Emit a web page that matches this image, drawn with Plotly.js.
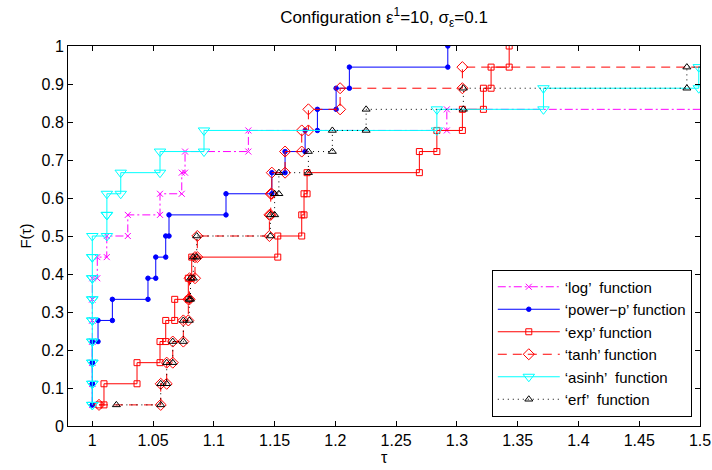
<!DOCTYPE html>
<html>
<head>
<meta charset="utf-8">
<script src="https://cdn.plot.ly/plotly-3.0.1.min.js"></script>
<style>html,body{margin:0;padding:0;background:#fff;}#chart{width:712px;height:470px;}</style>
</head>
<body>
<div id="chart"></div>
<script>
// ---- data: sorted performance ratios per solver (18 problems; missing = failures beyond axis) ----
const nProblems = 18;
const seriesNames = ["\u2018log\u2019  function", "\u2018power\u2212p\u2019 function", "\u2018exp\u2019 function", "\u2018tanh\u2019 function", "\u2018asinh\u2019  function", "\u2018erf\u2019  function"];
const logRatios = [1, 1, 1, 1, 1, 1, 1, 1.0041, 1.0119, 1.0292, 1.0557, 1.0736, 1.0763, 1.1284, 1.2917];
const powerpRatios = [1, 1, 1, 1, 1.0047, 1.0165, 1.0458, 1.0522, 1.0604, 1.0631, 1.1100, 1.1477, 1.1586, 1.1751, 1.1852, 1.2006, 1.2115, 1.2925];
const expRatios = [1.0055, 1.0096, 1.0368, 1.0557, 1.0604, 1.0678, 1.0790, 1.0818, 1.1526, 1.1723, 1.1742, 1.1767, 1.2691, 1.2835, 1.3045, 1.3218, 1.3281, 1.3430];
const tanhRatios = [1.0055, 1.0563, 1.0612, 1.0662, 1.0749, 1.0790, 1.0800, 1.0845, 1.0864, 1.1457, 1.1468, 1.1477, 1.1586, 1.1723, 1.1778, 1.2039, 1.3045];
const asinhRatios = [1, 1, 1, 1, 1, 1, 1, 1, 1, 1.012, 1.012, 1.0234, 1.0557, 1.0919, 1.2835, 1.3712, 1.499];
const erfRatios = [1.0198, 1.0563, 1.0612, 1.0662, 1.0749, 1.0798, 1.0808, 1.0831, 1.0859, 1.1465, 1.1500, 1.1535, 1.1778, 1.1975, 1.2253, 1.3053, 1.4892];
const xTickVals = [1, 1.05, 1.1, 1.15, 1.2, 1.25, 1.3, 1.35, 1.4, 1.45, 1.5];
const xTickText = ["1", "1.05", "1.1", "1.15", "1.2", "1.25", "1.3", "1.35", "1.4", "1.45", "1.5"];
const yTickVals = [0, 0.1, 0.2, 0.3, 0.4, 0.5, 0.6, 0.7, 0.8, 0.9, 1];
const yTickText = ["0", "0.1", "0.2", "0.3", "0.4", "0.5", "0.6", "0.7", "0.8", "0.9", "1"];
const titleText = "Configuration \u03b5<sup>1</sup>=10, \u03c3<sub>\u03b5</sub>=0.1";
const xLabel = "\u03c4";
const yLabel = "F(\u03c4)";

// ---- stairs vertices (MATLAB stairs: markers on every corner) ----
const failRatio = 3; // unsolved problems sit far right of the visible range
function stairs(r) {
  const xs = [], ys = [];
  for (let i = 0; i < r.length; i++) {
    if (i > 0) { xs.push(r[i]); ys.push(i / nProblems); }
    xs.push(r[i]); ys.push((i + 1) / nProblems);
  }
  if (r.length < nProblems) { xs.push(failRatio); ys.push(r.length / nProblems); }
  return {x: xs, y: ys};
}

const styles = [
  {color: "#ff00ff", dash: "8px,3px,2px,3px", symbol: "x-thin-open", size: 6},
  {color: "#0000ff", dash: "solid", symbol: "circle", size: 4.5},
  {color: "#ff0000", dash: "solid", symbol: "square-open", size: 6},
  {color: "#ff0000", dash: "9px,6px", symbol: "diamond-open", size: 8.5},
  {color: "#00ffff", dash: "solid", symbol: "triangle-down-open", size: 10},
  {color: "#000000", dash: "1px,4px", symbol: "triangle-up-open", size: 7}
];
const allRatios = [logRatios, powerpRatios, expRatios, tanhRatios, asinhRatios, erfRatios];

const traces = allRatios.map((r, i) => {
  const s = stairs(r);
  const st = styles[i];
  return {
    x: s.x, y: s.y, name: seriesNames[i], type: "scatter", mode: "lines+markers",
    line: {color: st.color, width: 1, dash: st.dash},
    marker: {symbol: st.symbol, size: st.size, color: st.color, line: {color: st.color, width: 1}}
  };
});

const font = "Liberation Sans, Arial, Helvetica, sans-serif";
const layout = {
  width: 712, height: 470,
  margin: {l: 68, r: 12, t: 46, b: 44},
  paper_bgcolor: "#fff", plot_bgcolor: "#fff",
  font: {family: font, size: 16, color: "#000"},
  title: {text: titleText, font: {family: font, size: 17, color: "#000"}, x: 0.5, xref: "paper", y: 1 - 17/470, yref: "container", yanchor: "middle"},
  xaxis: {
    range: [0.98, 1.5], tickvals: xTickVals, ticktext: xTickText,
    ticks: "inside", ticklen: 5, tickcolor: "#000", showline: true, linecolor: "#000", linewidth: 1, mirror: "ticks",
    showgrid: false, zeroline: false, tickfont: {size: 16}
  },
  yaxis: {
    range: [0, 1], tickvals: yTickVals, ticktext: yTickText,
    ticks: "inside", ticklen: 5, tickcolor: "#000", showline: true, linecolor: "#000", linewidth: 1, mirror: "ticks",
    showgrid: false, zeroline: false, tickfont: {size: 16},
    title: {text: yLabel, font: {size: 15}, standoff: 6}
  },
  annotations: [{
    text: xLabel, xref: "paper", yref: "paper", x: 0.5, y: -0.083, xanchor: "center", yanchor: "middle",
    showarrow: false, font: {family: font, size: 16, color: "#000"}
  }],
  legend: {
    x: 0.987, xanchor: "right", y: 0.025, yanchor: "bottom",
    bgcolor: "#fff", bordercolor: "#000", borderwidth: 1,
    font: {family: font, size: 15, color: "#000"}, itemwidth: 62, tracegroupgap: 0
  },
  showlegend: true
};

Plotly.newPlot("chart", traces, layout, {staticPlot: true, displayModeBar: false});
</script>
</body>
</html>
